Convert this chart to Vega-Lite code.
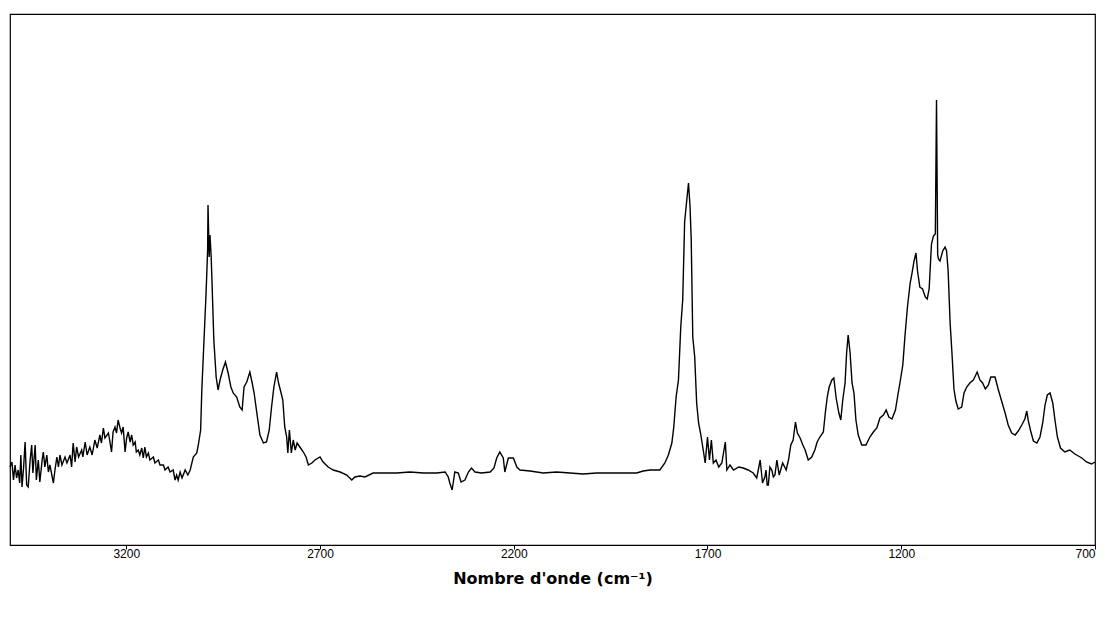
{
  "$schema": "https://vega.github.io/schema/vega-lite/v6.json",
  "width": 1085,
  "height": 531,
  "autosize": "none",
  "padding": {"left": 10, "top": 14, "right": 17, "bottom": 74},
  "background": "white",
  "config": {"view": {"stroke": "#000", "strokeWidth": 1.2}},
  "data": {"values": [
    {"wn":3500,"a":78},{"wn":3495,"a":83},{"wn":3491,"a":65},{"wn":3487,"a":80},{"wn":3483,"a":67},{"wn":3479,"a":75},{"wn":3475,"a":62},{"wn":3472,"a":90},{"wn":3469,"a":58},{"wn":3465,"a":77},{"wn":3461,"a":103},{"wn":3457,"a":60},{"wn":3453,"a":58},{"wn":3448,"a":85},{"wn":3444,"a":100},{"wn":3441,"a":72},{"wn":3435,"a":100},{"wn":3432,"a":65},{"wn":3427,"a":85},{"wn":3423,"a":63},{"wn":3417,"a":85},{"wn":3414,"a":93},{"wn":3410,"a":78},{"wn":3405,"a":90},{"wn":3401,"a":73},{"wn":3397,"a":80},{"wn":3393,"a":72},{"wn":3388,"a":62},{"wn":3384,"a":75},{"wn":3379,"a":88},{"wn":3375,"a":78},{"wn":3371,"a":90},{"wn":3366,"a":80},{"wn":3358,"a":88},{"wn":3353,"a":82},{"wn":3345,"a":90},{"wn":3341,"a":78},{"wn":3337,"a":102},{"wn":3332,"a":83},{"wn":3328,"a":98},{"wn":3323,"a":88},{"wn":3315,"a":95},{"wn":3312,"a":88},{"wn":3306,"a":103},{"wn":3301,"a":90},{"wn":3294,"a":98},{"wn":3288,"a":90},{"wn":3281,"a":105},{"wn":3275,"a":97},{"wn":3268,"a":110},{"wn":3264,"a":102},{"wn":3259,"a":117},{"wn":3255,"a":107},{"wn":3246,"a":112},{"wn":3242,"a":103},{"wn":3238,"a":93},{"wn":3234,"a":113},{"wn":3229,"a":118},{"wn":3225,"a":112},{"wn":3221,"a":125},{"wn":3216,"a":117},{"wn":3212,"a":112},{"wn":3208,"a":118},{"wn":3203,"a":93},{"wn":3199,"a":107},{"wn":3195,"a":113},{"wn":3190,"a":103},{"wn":3186,"a":110},{"wn":3182,"a":100},{"wn":3177,"a":103},{"wn":3174,"a":93},{"wn":3169,"a":95},{"wn":3165,"a":90},{"wn":3160,"a":97},{"wn":3156,"a":87},{"wn":3152,"a":98},{"wn":3148,"a":88},{"wn":3143,"a":92},{"wn":3139,"a":85},{"wn":3130,"a":88},{"wn":3126,"a":82},{"wn":3117,"a":85},{"wn":3113,"a":80},{"wn":3104,"a":80},{"wn":3100,"a":75},{"wn":3092,"a":78},{"wn":3087,"a":73},{"wn":3079,"a":75},{"wn":3074,"a":65},{"wn":3070,"a":70},{"wn":3066,"a":65},{"wn":3061,"a":73},{"wn":3056,"a":67},{"wn":3048,"a":75},{"wn":3041,"a":70},{"wn":3035,"a":75},
    {"wn":3027,"a":88},{"wn":3018,"a":92},{"wn":3014,"a":100},{"wn":3008,"a":115},{"wn":3005,"a":155},{"wn":2999,"a":208},{"wn":2994,"a":252},{"wn":2990,"a":295},{"wn":2989,"a":340},{"wn":2986,"a":288},{"wn":2984,"a":310},{"wn":2981,"a":290},{"wn":2979,"a":267},{"wn":2974,"a":205},{"wn":2968,"a":168},{"wn":2963,"a":155},{"wn":2958,"a":165},{"wn":2951,"a":175},{"wn":2944,"a":183},{"wn":2937,"a":172},{"wn":2930,"a":158},{"wn":2924,"a":152},{"wn":2915,"a":148},{"wn":2907,"a":138},{"wn":2901,"a":135},{"wn":2896,"a":158},{"wn":2889,"a":163},{"wn":2881,"a":173},{"wn":2875,"a":162},{"wn":2870,"a":152},{"wn":2863,"a":132},{"wn":2855,"a":110},{"wn":2846,"a":102},{"wn":2838,"a":103},{"wn":2831,"a":115},{"wn":2825,"a":138},{"wn":2819,"a":158},{"wn":2812,"a":173},{"wn":2807,"a":162},{"wn":2801,"a":153},{"wn":2796,"a":145},{"wn":2791,"a":118},{"wn":2786,"a":108},{"wn":2783,"a":92},{"wn":2779,"a":115},{"wn":2774,"a":92},{"wn":2769,"a":105},{"wn":2764,"a":95},{"wn":2759,"a":102},{"wn":2752,"a":98},{"wn":2743,"a":93},{"wn":2736,"a":88},{"wn":2730,"a":80},{"wn":2721,"a":82},{"wn":2713,"a":85},{"wn":2700,"a":88},{"wn":2692,"a":83},{"wn":2679,"a":78},{"wn":2666,"a":75},{"wn":2648,"a":73},{"wn":2631,"a":70},{"wn":2618,"a":65},{"wn":2610,"a":68},{"wn":2597,"a":69},
    {"wn":2584,"a":68},{"wn":2563,"a":72},{"wn":2537,"a":72},{"wn":2502,"a":72},{"wn":2468,"a":73},{"wn":2433,"a":72},{"wn":2399,"a":72},{"wn":2377,"a":73},{"wn":2369,"a":68},{"wn":2365,"a":62},{"wn":2359,"a":55},{"wn":2352,"a":73},{"wn":2343,"a":72},{"wn":2336,"a":63},{"wn":2326,"a":65},{"wn":2317,"a":73},{"wn":2309,"a":77},{"wn":2300,"a":73},{"wn":2283,"a":72},{"wn":2261,"a":73},{"wn":2251,"a":77},{"wn":2244,"a":87},{"wn":2236,"a":93},{"wn":2227,"a":87},{"wn":2223,"a":73},{"wn":2214,"a":87},{"wn":2201,"a":87},{"wn":2192,"a":78},{"wn":2184,"a":75},{"wn":2158,"a":74},{"wn":2124,"a":72},{"wn":2089,"a":73},{"wn":2055,"a":72},{"wn":2021,"a":71},{"wn":1986,"a":72},{"wn":1952,"a":72},{"wn":1917,"a":72},{"wn":1883,"a":72},{"wn":1866,"a":74},{"wn":1848,"a":75},{"wn":1823,"a":75},{"wn":1810,"a":82},{"wn":1801,"a":90},
    {"wn":1792,"a":102},{"wn":1787,"a":118},{"wn":1781,"a":148},{"wn":1775,"a":165},{"wn":1769,"a":218},{"wn":1764,"a":245},{"wn":1759,"a":323},{"wn":1754,"a":343},{"wn":1749,"a":362},{"wn":1745,"a":338},{"wn":1742,"a":305},{"wn":1738,"a":208},{"wn":1733,"a":188},{"wn":1728,"a":142},{"wn":1723,"a":122},{"wn":1718,"a":112},{"wn":1711,"a":95},{"wn":1706,"a":82},{"wn":1700,"a":108},{"wn":1695,"a":85},{"wn":1690,"a":105},{"wn":1685,"a":82},{"wn":1678,"a":85},{"wn":1671,"a":78},{"wn":1663,"a":82},{"wn":1654,"a":103},{"wn":1650,"a":75},{"wn":1642,"a":80},{"wn":1633,"a":75},{"wn":1619,"a":78},{"wn":1608,"a":77},{"wn":1595,"a":75},{"wn":1582,"a":72},{"wn":1573,"a":67},{"wn":1564,"a":85},{"wn":1558,"a":62},{"wn":1552,"a":68},{"wn":1549,"a":75},{"wn":1546,"a":60},{"wn":1543,"a":60},{"wn":1539,"a":78},{"wn":1534,"a":75},{"wn":1530,"a":68},{"wn":1526,"a":70},{"wn":1521,"a":85},{"wn":1515,"a":70},{"wn":1506,"a":82},{"wn":1497,"a":75},{"wn":1491,"a":85},{"wn":1485,"a":100},{"wn":1479,"a":105},{"wn":1473,"a":123},
    {"wn":1468,"a":112},{"wn":1461,"a":107},{"wn":1454,"a":100},{"wn":1448,"a":95},{"wn":1440,"a":85},{"wn":1431,"a":88},{"wn":1423,"a":95},{"wn":1417,"a":103},{"wn":1410,"a":108},{"wn":1401,"a":113},{"wn":1396,"a":132},{"wn":1391,"a":148},{"wn":1386,"a":158},{"wn":1379,"a":165},{"wn":1374,"a":167},{"wn":1368,"a":147},{"wn":1361,"a":132},{"wn":1356,"a":125},{"wn":1351,"a":145},{"wn":1345,"a":162},{"wn":1341,"a":192},{"wn":1337,"a":210},{"wn":1332,"a":192},{"wn":1327,"a":162},{"wn":1322,"a":152},{"wn":1317,"a":125},{"wn":1311,"a":110},{"wn":1302,"a":100},{"wn":1291,"a":100},{"wn":1281,"a":108},{"wn":1272,"a":113},{"wn":1263,"a":117},{"wn":1255,"a":127},{"wn":1246,"a":130},{"wn":1239,"a":135},{"wn":1232,"a":128},{"wn":1224,"a":126},{"wn":1215,"a":135},{"wn":1210,"a":147},{"wn":1203,"a":163},{"wn":1196,"a":180},{"wn":1190,"a":211},{"wn":1184,"a":238},{"wn":1177,"a":262},{"wn":1173,"a":270},{"wn":1167,"a":284},{"wn":1162,"a":292},{"wn":1158,"a":274},{"wn":1152,"a":258},{"wn":1145,"a":256},{"wn":1138,"a":248},{"wn":1133,"a":246},{"wn":1128,"a":256},{"wn":1122,"a":301},{"wn":1117,"a":309},{"wn":1112,"a":311},{"wn":1109,"a":445},{"wn":1106,"a":290},{"wn":1104,"a":286},{"wn":1100,"a":284},{"wn":1093,"a":294},{"wn":1087,"a":298},{"wn":1083,"a":294},{"wn":1079,"a":274},{"wn":1074,"a":223},{"wn":1069,"a":191},{"wn":1064,"a":156},{"wn":1059,"a":144},{"wn":1053,"a":136},{"wn":1044,"a":138},{"wn":1038,"a":152},{"wn":1031,"a":158},{"wn":1023,"a":162},{"wn":1014,"a":165},{"wn":1004,"a":173},{"wn":997,"a":165},{"wn":990,"a":162},{"wn":983,"a":156},{"wn":975,"a":160},{"wn":969,"a":168},{"wn":958,"a":168},{"wn":950,"a":156},{"wn":941,"a":144},{"wn":932,"a":132},{"wn":924,"a":120},{"wn":915,"a":112},{"wn":906,"a":110},{"wn":898,"a":114},{"wn":889,"a":120},{"wn":881,"a":126},{"wn":876,"a":134},{"wn":872,"a":124},{"wn":866,"a":114},{"wn":859,"a":104},{"wn":850,"a":102},{"wn":842,"a":108},{"wn":835,"a":122},{"wn":829,"a":140},{"wn":823,"a":150},{"wn":816,"a":152},{"wn":809,"a":142},{"wn":803,"a":124},{"wn":797,"a":108},{"wn":789,"a":97},{"wn":778,"a":93},{"wn":765,"a":95},{"wn":752,"a":91},{"wn":734,"a":87},{"wn":722,"a":83},{"wn":709,"a":81},{"wn":700,"a":83}
  ]},
  "mark": {"type": "line", "color": "#000", "strokeWidth": 1.4},
  "encoding": {
    "x": {
      "field": "wn", "type": "quantitative",
      "scale": {"domain": [700, 3500], "reverse": true, "nice": false, "zero": false},
      "axis": {
        "values": [3200, 2700, 2200, 1700, 1200, 700],
        "title": "Nombre d'onde (cm⁻¹)",
        "grid": false,
        "format": "d",
        "domainColor": "#000",
        "domainWidth": 1.2,
        "tickColor": "#000",
        "tickSize": 4,
        "labelPadding": -1,
        "labelFont": "Liberation Sans",
        "labelFontSize": 12,
        "labelColor": "#000",
        "titleFont": "DejaVu Sans",
        "titleFontSize": 16,
        "titleFontWeight": "bold",
        "titleColor": "#000",
        "titlePadding": 11
      }
    },
    "y": {
      "field": "a", "type": "quantitative",
      "scale": {"domain": [0, 531], "nice": false},
      "axis": null
    }
  }
}
